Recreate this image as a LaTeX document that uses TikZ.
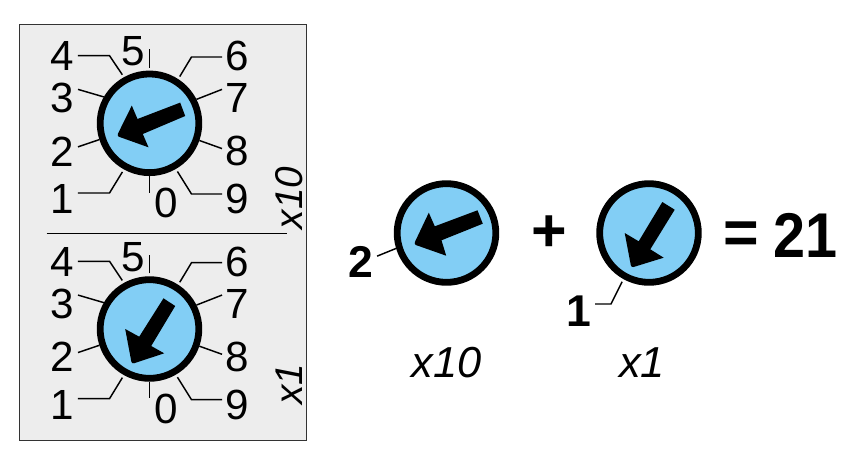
\documentclass[tikz,border=0pt]{standalone}
\usepackage{fontspec}
\setmainfont{Liberation Sans}
\usepackage{tikz}
\definecolor{dialblue}{HTML}{82CEF5}
\definecolor{panelgray}{HTML}{EDEDED}
\tikzset{
	dial/.style={circle, draw=black, fill=dialblue, line width=5.8pt, minimum size=2.96cm, inner sep=0pt},
	pointer/.style={fill=black},
	tick/.style={draw=black, line width=1.25pt},
	gaptick/.style={tick, shorten <=2.5pt},
	digit/.style={inner sep=3pt, font=\fontsize{36}{36}\selectfont},
	boldlabel/.style={inner sep=3pt, font=\fontsize{38}{38}\selectfont\bfseries},
	sumlabel/.style={inner sep=0pt, font=\fontsize{52}{52}\selectfont\bfseries},
	factor/.style={inner sep=0pt, font=\fontsize{37}{37}\selectfont\itshape},
	sidefactor/.style={inner sep=0pt, rotate=90, font=\fontsize{33}{33}\selectfont\itshape}
}

\begin{document}
\begin{tikzpicture}[x=0.03cm,y=-0.03cm]
	\useasboundingbox (0,0) rectangle (858,468);
	
	\node[draw=black!80, fill=panelgray, line width=1.25pt, minimum width=8.61cm, minimum height=12.48cm, inner sep=0pt] (panel) at (162.8,232.7) {};
	\coordinate (ruleL) at (46.7,233.7);
	\coordinate (ruleR) at (286.7,233.7);
	\draw[tick] (ruleL) -- (ruleR);
	
	% upper switch
	\begin{scope}[shift={(149.5,123.3)}]
		\node[dial] (dialA) at (0,0) {};
		\fill[pointer] (30.7,-20.7) -- (35.7,-7.3) -- (-6.7,10.7) -- (-1,24) [rounded corners=2pt] -- (-32.7,12.7) [sharp corners] -- (-17.7,-17.7) -- (-12,-4.3) -- cycle;
		
		\node[digit] (n0a) at (17,79.5) {0};
		\node[digit] (n1a) at (-87,76) {1};
		\node[digit] (n2a) at (-87,28) {2};
		\node[digit] (n3a) at (-87,-25) {3};
		\node[digit] (n4a) at (-87,-67) {4};
		\node[digit] (n5a) at (-16,-72) {5};
		\node[digit] (n6a) at (88,-67) {6};
		\node[digit] (n7a) at (88,-25) {7};
		\node[digit] (n8a) at (88,28) {8};
		\node[digit] (n9a) at (88,76) {9};
		
		\coordinate (e0a) at (0,69.3);
		\coordinate (e5a) at (0,-74);
		\draw[tick] (dialA.270) -- (e0a);
		\draw[gaptick] (dialA.90) -- (e5a);
		\draw[gaptick] (dialA.241) -- (-40,69.7) -- (n1a.east |- 0,69.7);
		\draw[tick] (dialA.198) -- (n2a.16);
		\draw[tick] (dialA.150) -- (n3a.30);
		\draw[gaptick] (dialA.119) -- (-40,-67.7) -- (n4a.east |- 0,-67.7);
		\draw[gaptick] (dialA.57) -- (42,-66.3) -- (n6a.west |- 0,-66.3);
		\draw[tick] (dialA.27) -- (n7a.150);
		\draw[tick] (dialA.-19) -- (n8a.170);
		\draw[gaptick] (dialA.-60) -- (42,70.7) -- (n9a.west |- 0,70.7);
	\end{scope}
	
	% lower switch
	\begin{scope}[shift={(149.5,329)}]
		\node[dial] (dialB) at (0,0) {};
		\fill[pointer] (14,-30.7) -- (25.7,-23) -- (1.7,17) -- (14.7,24.3) [rounded corners=2pt] -- (-17.7,35) [sharp corners] -- (-24.3,0) -- (-10.3,7.7) -- cycle;
		
		\node[digit] (n0b) at (17,79.5) {0};
		\node[digit] (n1b) at (-87,76) {1};
		\node[digit] (n2b) at (-87,28) {2};
		\node[digit] (n3b) at (-87,-25) {3};
		\node[digit] (n4b) at (-87,-67) {4};
		\node[digit] (n5b) at (-16,-72) {5};
		\node[digit] (n6b) at (88,-67) {6};
		\node[digit] (n7b) at (88,-25) {7};
		\node[digit] (n8b) at (88,28) {8};
		\node[digit] (n9b) at (88,76) {9};
		
		\coordinate (e0b) at (0,69.3);
		\coordinate (e5b) at (0,-74);
		\draw[tick] (dialB.270) -- (e0b);
		\draw[gaptick] (dialB.90) -- (e5b);
		\draw[gaptick] (dialB.241) -- (-40,69.7) -- (n1b.east |- 0,69.7);
		\draw[tick] (dialB.198) -- (n2b.16);
		\draw[tick] (dialB.150) -- (n3b.30);
		\draw[gaptick] (dialB.119) -- (-40,-67.7) -- (n4b.east |- 0,-67.7);
		\draw[gaptick] (dialB.57) -- (42,-66.3) -- (n6b.west |- 0,-66.3);
		\draw[tick] (dialB.27) -- (n7b.150);
		\draw[tick] (dialB.-19) -- (n8b.170);
		\draw[gaptick] (dialB.-60) -- (42,70.7) -- (n9b.west |- 0,70.7);
	\end{scope}
	
	\node[sidefactor] (sideA) at (289,198) {x10};
	\node[sidefactor] (sideB) at (289,384) {x1};
	
	% the sum on the right
	\begin{scope}[shift={(446.5,233)}]
		\node[dial] (dialC) at (0,0) {};
		\fill[pointer] (31,-22.7) -- (36.3,-9.3) -- (-5,7.3) -- (-0.3,22.7) [rounded corners=2pt] -- (-32.7,11.3) [sharp corners] -- (-17.7,-20.3) -- (-11.7,-6.7) -- cycle;
	\end{scope}
	\begin{scope}[shift={(649,233)}]
		\node[dial] (dialD) at (0,0) {};
		\fill[pointer] (13.3,-31) -- (25.7,-23.3) -- (1.3,16.3) -- (14.7,24.7) [rounded corners=2pt] -- (-17.7,34.7) [sharp corners] -- (-24.3,0) -- (-10.3,8.3) -- cycle;
	\end{scope}
	
	\node[boldlabel] (valC) at (361,262) {2};
	\node[boldlabel] (valD) at (579,311) {1};
	\draw[tick] (dialC.197) -- (valC.20);
	\draw[gaptick] (dialD.241) -- (611,304) -- (valD.east |- 0,304);
	
	\node[sumlabel] (plus) at (549,234) {+};
	\node[sumlabel] (equals) at (741,238) {=};
	\node[sumlabel, font=\fontsize{54}{54}\selectfont\bfseries] (total) at (806,235) {\scalebox{0.91}[1]{21}};
	
	\node[factor] (factorC) at (446.5,363) {x10};
	\node[factor] (factorD) at (642,363) {x1};
\end{tikzpicture}
\end{document}
